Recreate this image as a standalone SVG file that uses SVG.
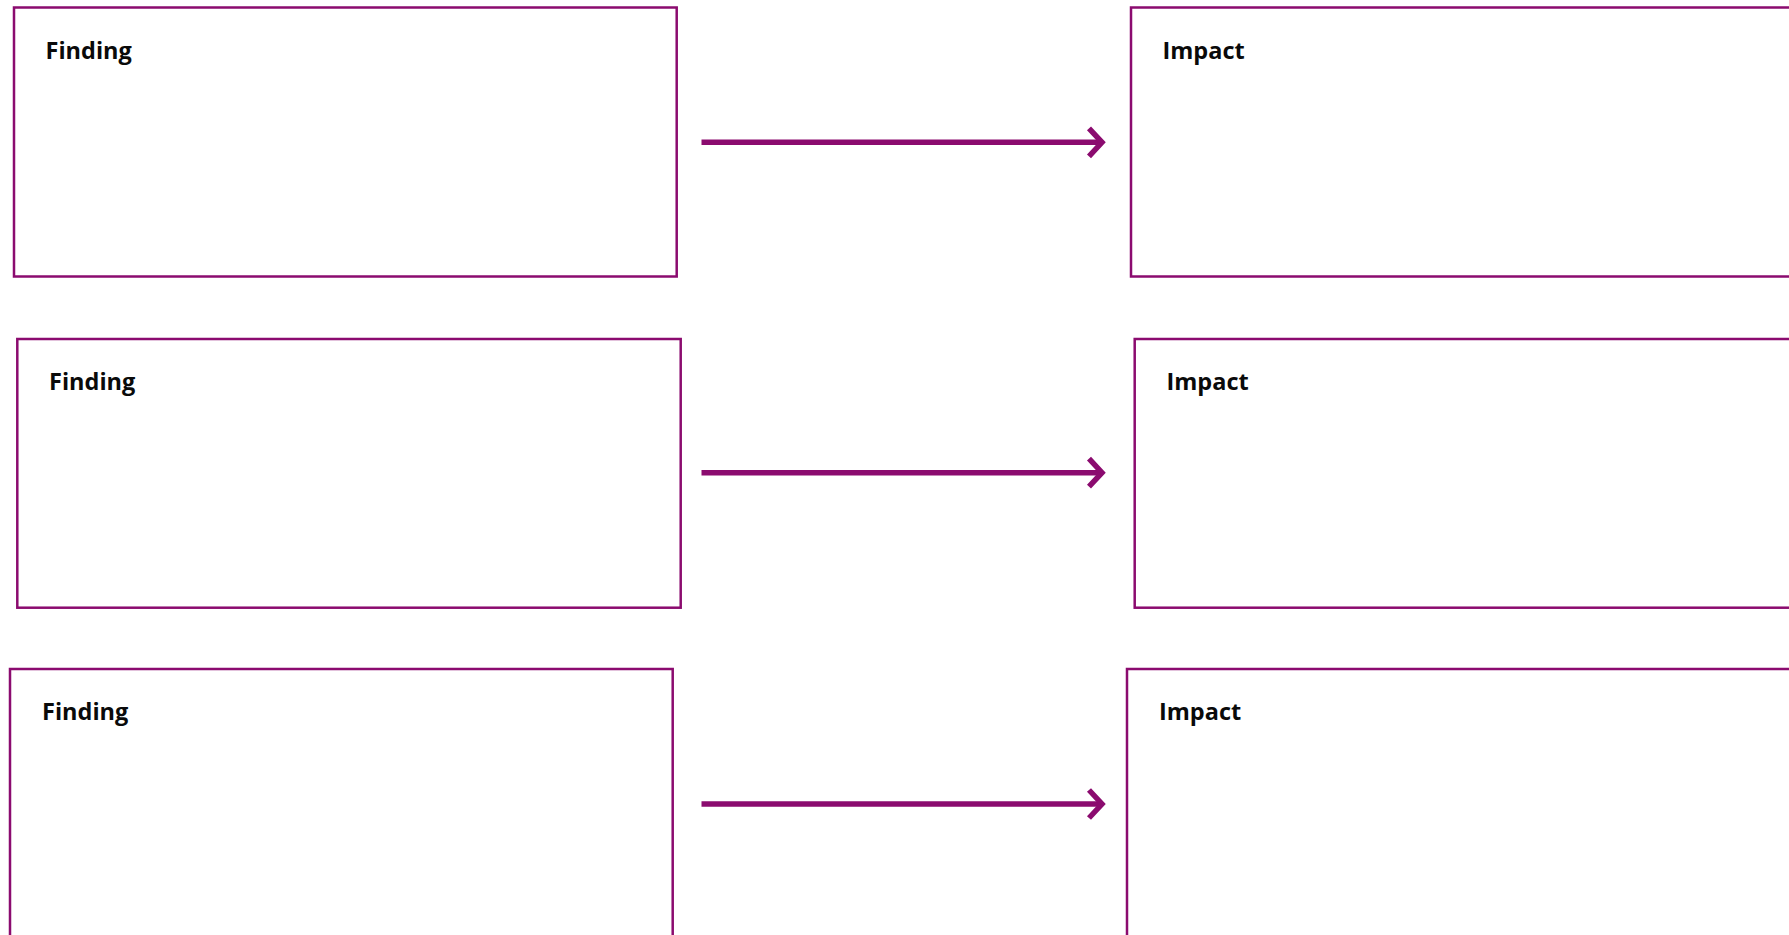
<svg xmlns="http://www.w3.org/2000/svg" width="1789" height="935" viewBox="0 0 1789 935">
<style>
.box{fill:#fff;stroke:#8B0B6F;stroke-width:2.5}
.lbl{font-family:"Open Sans","Noto Sans","Liberation Sans",sans-serif;font-weight:700;font-size:23.5px;fill:#0a0a0a}
.conn line{stroke:#8B0B6F;stroke-width:5.5}
.conn polyline{fill:none;stroke:#8B0B6F;stroke-width:5.5;stroke-linejoin:miter}
</style>
<rect width="1789" height="935" fill="#fff"/>
<g id="finding1"><rect class="box" x="14" y="7.5" width="662.7" height="269"/><text class="lbl" x="45.5" y="58.5">Finding</text></g>
<g id="impact1"><rect class="box" x="1131" y="7.5" width="700" height="269"/><text class="lbl" x="1162.5" y="58.5">Impact</text></g>
<g id="finding2"><rect class="box" x="17.3" y="339" width="663.4" height="268.7"/><text class="lbl" x="49" y="390">Finding</text></g>
<g id="impact2"><rect class="box" x="1134.7" y="339" width="700" height="268.7"/><text class="lbl" x="1166.5" y="390">Impact</text></g>
<g id="finding3"><rect class="box" x="10" y="669" width="662.7" height="300"/><text class="lbl" x="42" y="720">Finding</text></g>
<g id="impact3"><rect class="box" x="1127" y="669" width="700" height="300"/><text class="lbl" x="1159" y="720">Impact</text></g>
<g id="connectors" class="conn">
<line x1="701.5" y1="142.3" x2="1101" y2="142.3"/><polyline points="1089,128.3 1102,142.3 1089,156.3"/>
<line x1="701.5" y1="472.7" x2="1101" y2="472.7"/><polyline points="1089,458.7 1102,472.7 1089,486.7"/>
<line x1="701.5" y1="804" x2="1101" y2="804"/><polyline points="1089,790 1102,804 1089,818"/>
</g>
</svg>
